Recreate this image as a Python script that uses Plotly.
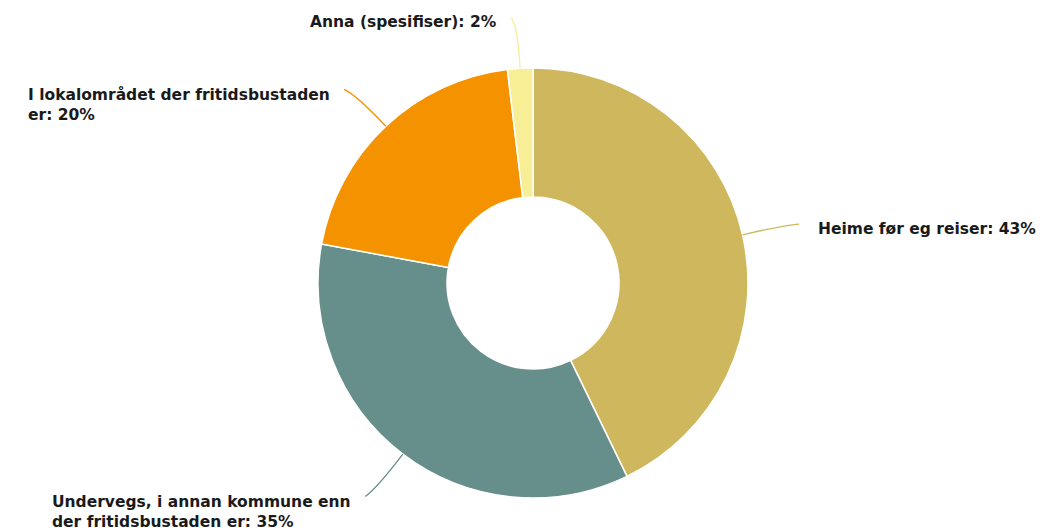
import math
import plotly.graph_objects as go

# ---- data ----
categories = [
    "Heime før eg reiser",
    "Undervegs, i annan kommune enn der fritidsbustaden er",
    "I lokalområdet der fritidsbustaden er",
    "Anna (spesifiser)",
]
values = [42.8, 35.1, 20.2, 1.9]
# where each label wraps onto a second line (display only)
wrapped_labels = [
    "Heime før eg reiser",
    "Undervegs, i annan kommune enn<br>der fritidsbustaden er",
    "I lokalområdet der fritidsbustaden<br>er",
    "Anna (spesifiser)",
]
colors = ["#CFB75E", "#668E8A", "#F59200", "#F7EE96"]

# ---- layout constants (screen pixels) ----
W, H = 1046, 532
PAGE_OFFSET = 8          # default body margin of the html page
CX, CY, R = 533, 283, 215
HOLE = 0.40
FONT = dict(family="DejaVu Sans", size=15.5, color="#1a1a1a", weight="bold")
GAP_RIGHT, GAP_LEFT = 17, 12


def px(x):
    return (x - PAGE_OFFSET) / W


def py(y):
    return 1 - (y - PAGE_OFFSET) / H


fig = go.Figure()
fig.add_trace(go.Pie(
    labels=categories,
    values=values,
    sort=False,
    direction="clockwise",
    rotation=0,
    hole=HOLE,
    marker=dict(colors=colors, line=dict(color="white", width=1.5)),
    textinfo="none",
    hoverinfo="label+percent",
    showlegend=False,
    domain=dict(x=[px(CX - R), px(CX + R)], y=[py(CY + R), py(CY - R)]),
))

# ---- outside labels with connector lines, positioned from the data angles ----
total = sum(values)
cum = 0.0
shapes, annotations = [], []
for name, lab, v, col in zip(categories, wrapped_labels, values, colors):
    mid = (cum + v / 2) / total * 2 * math.pi
    cum += v
    dx, dy = math.sin(mid), -math.cos(mid)
    side = 1 if dx >= 0 else -1
    p0 = (CX + R * dx, CY + R * dy)
    p1 = (CX + (R + 42) * dx, CY + (R + 42) * dy)
    p2 = (CX + (R + 52) * dx + side * 6, CY + (R + 52) * dy + 1)
    path = (f"M {px(p0[0])},{py(p0[1])} "
            f"Q {px(p1[0])},{py(p1[1])} {px(p2[0])},{py(p2[1])}")
    shapes.append(dict(type="path", path=path, xref="paper", yref="paper",
                       line=dict(color=col, width=1.3)))
    pct = round(v / total * 100)
    gap = GAP_RIGHT if side > 0 else GAP_LEFT
    annotations.append(dict(
        text=f"{lab}: {pct}%",
        x=px(p2[0] + side * gap), y=py(p2[1] - 6),
        xref="paper", yref="paper",
        xanchor="left" if side > 0 else "right", yanchor="top",
        align="left", showarrow=False, font=FONT,
    ))

fig.update_layout(
    width=W, height=H,
    margin=dict(l=0, r=0, t=0, b=0),
    paper_bgcolor="white", plot_bgcolor="white",
    shapes=shapes, annotations=annotations,
)

fig.write_html("out.html")
